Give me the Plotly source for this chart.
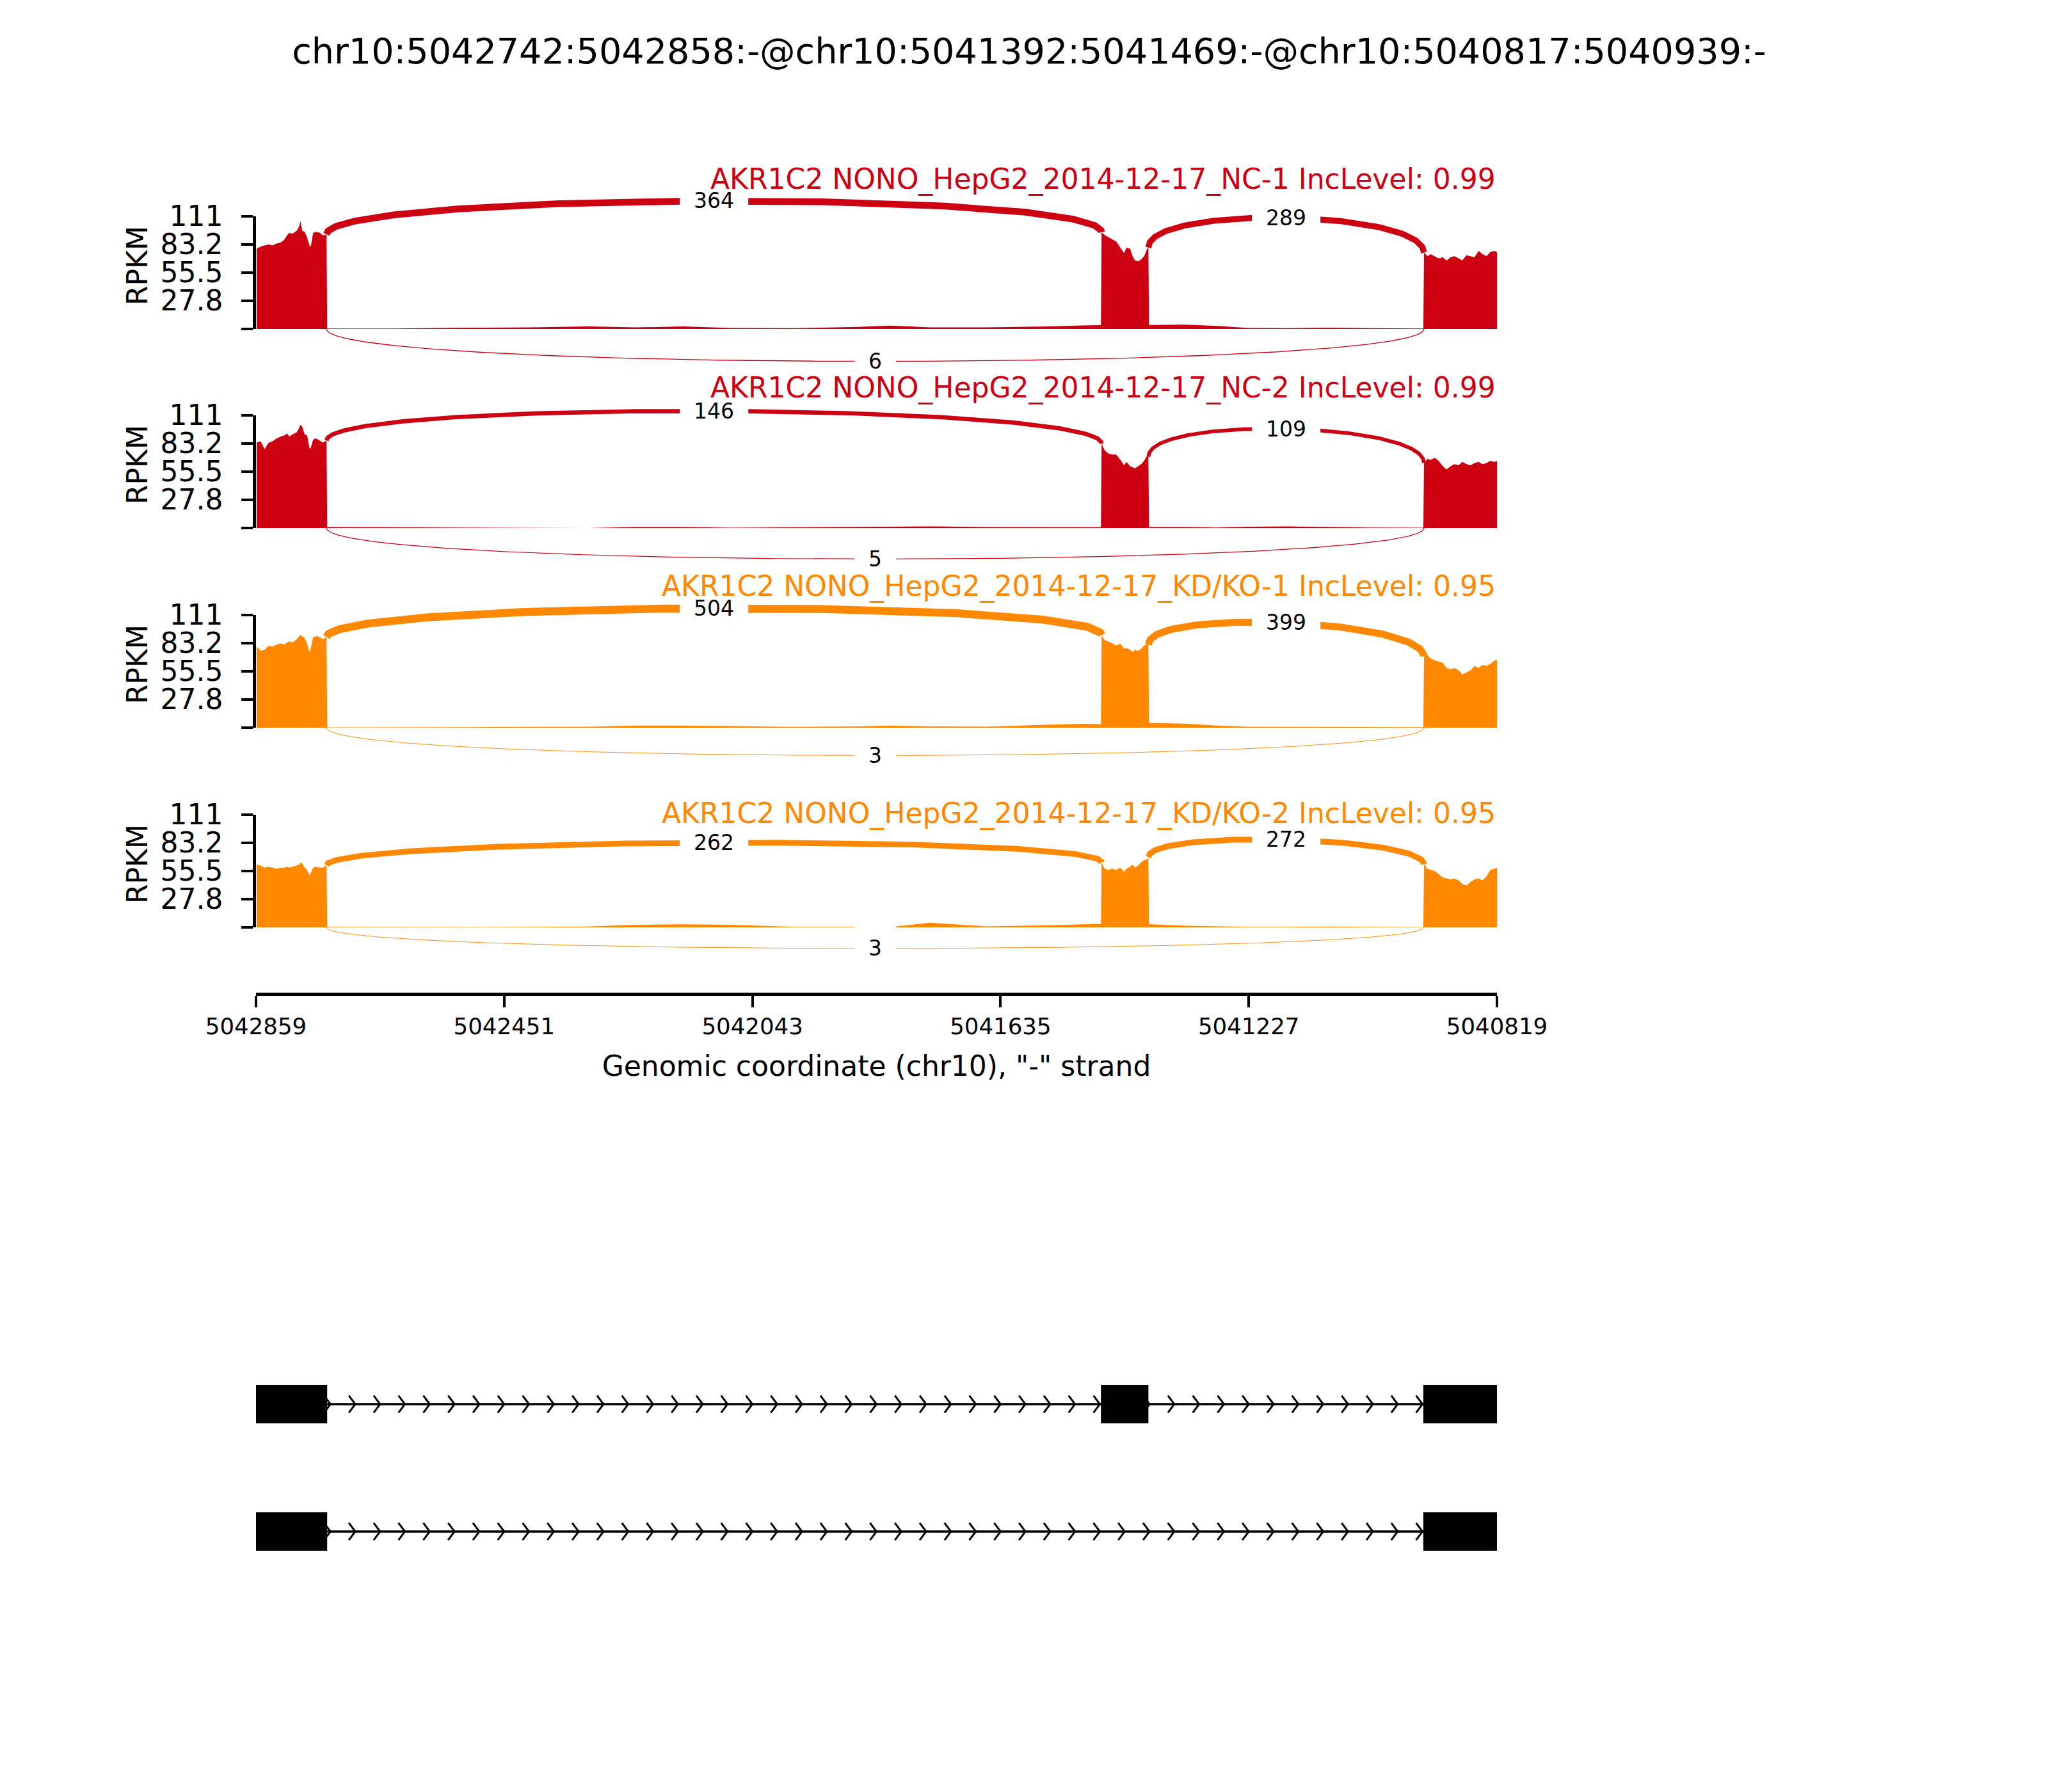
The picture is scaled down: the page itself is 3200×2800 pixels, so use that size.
import numpy as np
import plotly.graph_objects as go

# ---------------------------------------------------------------- data
TITLE = "chr10:5042742:5042858:-@chr10:5041392:5041469:-@chr10:5040817:5040939:-"
SAMPLE_NAMES = [
    "AKR1C2 NONO_HepG2_2014-12-17_NC-1 IncLevel: 0.99",
    "AKR1C2 NONO_HepG2_2014-12-17_NC-2 IncLevel: 0.99",
    "AKR1C2 NONO_HepG2_2014-12-17_KD/KO-1 IncLevel: 0.95",
    "AKR1C2 NONO_HepG2_2014-12-17_KD/KO-2 IncLevel: 0.95",
]
SAMPLE_COLORS = ["#CC0011", "#CC0011", "#FF8800", "#FF8800"]

X_LEFT, X_RIGHT = 5042859, 5040819
X_TICKS = [5042859, 5042451, 5042043, 5041635, 5041227, 5040819]
X_TICK_LABELS = ["5042859", "5042451", "5042043", "5041635", "5041227", "5040819"]
X_TITLE = 'Genomic coordinate (chr10), "-" strand'
Y_TICKS = [0, 27.8, 55.5, 83.2, 111]
Y_TICK_LABELS = ["", "27.8", "55.5", "83.2", "111"]
Y_LABEL = "RPKM"

# exons (start, end) and the two isoforms drawn in the gene track
EXONS = [(5042742, 5042858), (5041392, 5041469), (5040817, 5040939)]
ISOFORMS = [[0, 1, 2], [0, 2]]

# junctions: (left exon edge, right exon edge); drawn above or below
JUNCTIONS = [(5042743, 5041469), (5041392, 5040939), (5042743, 5040939)]
JUNCTION_ABOVE = [True, True, False]
NC1_JUNCTIONS = [364, 289, 6]
NC2_JUNCTIONS = [146, 109, 5]
KD1_JUNCTIONS = [504, 399, 3]
KD2_JUNCTIONS = [262, 272, 3]

# coverage sampling positions
EXON1_POS = [5042858, 5042851, 5042845, 5042838, 5042832, 5042825, 5042818, 5042812,
             5042808, 5042804, 5042799, 5042792, 5042788, 5042786, 5042783, 5042779,
             5042775, 5042771, 5042769, 5042765, 5042760, 5042754, 5042749, 5042743]
INTRON1_POS = [5042742, 5042733, 5042628, 5042510, 5042406, 5042314, 5042235, 5042157,
               5042078, 5041973, 5041869, 5041816, 5041751, 5041659, 5041554, 5041502,
               5041470]
EXON2_POS = [5041469, 5041464, 5041458, 5041451, 5041445, 5041438, 5041432, 5041428,
             5041422, 5041418, 5041414, 5041409, 5041404, 5041399, 5041394, 5041392]
INTRON2_POS = [5041391, 5041384, 5041331, 5041279, 5041227, 5041161, 5041096, 5041030,
               5040940]
EXON3_POS = [5040939, 5040933, 5040928, 5040921, 5040915, 5040908, 5040902, 5040895,
             5040889, 5040882, 5040876, 5040869, 5040862, 5040856, 5040849, 5040843,
             5040836, 5040830, 5040823, 5040819]

# coverage (RPKM)
NC1_EXON1 = [79, 81, 82, 83, 82, 84, 85, 88, 92, 94.5, 93.5, 96.5, 101, 106, 96.5, 95.5,
             90, 82, 81, 94.5, 95.5, 94.5, 92, 93]
NC1_INTRON1 = [0.5, 0.5, 0.5, 1.2, 1.5, 2.5, 1.5, 2.5, 1, 0.8, 2, 3.3, 1.5, 1.5, 2.5, 3.5, 3.8]
NC1_EXON2 = [95, 92.4, 90.3, 88.2, 86, 79.8, 74.6, 79.8, 78.8, 71.5, 67.3, 66.3, 68.3, 71.5,
             78.8, 80]
NC1_INTRON2 = [4, 4, 4.2, 3, 1, 0.8, 1.2, 0.8, 0.5]
NC1_EXON3 = [75, 71.5, 73.6, 71.5, 69.4, 70.4, 67.3, 70.4, 71.5, 69.4, 67.3, 72.5, 71.5, 70.4,
             76.7, 73.6, 71.5, 75.7, 76.7, 75.7]

NC2_EXON1 = [84, 85, 77.5, 84, 85, 88, 90, 91, 93, 90, 92, 94, 98.5, 101.6, 99.5, 92, 91,
             78.5, 78.5, 87, 88, 86, 84, 86]
NC2_INTRON1 = [1, 1, 0.8, 0.5, 0.3, 0, 1, 1, 0.3, 0.8, 1, 1.5, 1.5, 1, 1, 0.8, 0.8]
NC2_EXON2 = [83, 76.4, 73.3, 72.2, 72.2, 67, 61.7, 65, 60.7, 59.6, 58.6, 60.7, 62.8, 66,
             71.2, 70]
NC2_INTRON2 = [1, 1, 1, 0.5, 1.2, 1.5, 1, 0.5, 0.3]
NC2_EXON3 = [64, 68, 67, 69, 66, 60.7, 57.5, 60.7, 62.8, 61.7, 65, 62.8, 61.7, 63.8, 65,
             62.8, 63.8, 66, 65, 66]

KD1_EXON1 = [79.6, 75.4, 76.4, 80.6, 79.6, 81.7, 82.7, 81.7, 83.8, 84.8, 83.8, 87, 90, 91,
             90, 88, 82.7, 74.3, 77.5, 89, 90, 89, 87, 89]
KD1_INTRON1 = [0.3, 0.3, 0.3, 0.5, 0.8, 1, 2, 2, 1.5, 0.8, 1.2, 2, 1.2, 1, 3, 3.8, 3.5]
KD1_EXON2 = [91, 86, 84.8, 82.7, 80.6, 82.7, 77.5, 78.5, 76.4, 74.3, 76.4, 75.4, 77.5, 80.6,
             82.7, 81.7]
KD1_INTRON2 = [4.5, 4.5, 4, 2, 1, 0.8, 0.8, 0.8, 0.5]
KD1_EXON3 = [70, 71.2, 68, 66, 65, 63.8, 58.6, 57.5, 58.6, 56.5, 52.3, 54.4, 56.5, 60.7,
             58.6, 61.7, 60.7, 62.8, 66, 67]

KD2_EXON1 = [61.7, 60.7, 58.6, 59.6, 58.6, 57.5, 58.6, 58.6, 59.6, 58.6, 59.6, 60.7, 61.7,
             63.8, 62.8, 58.6, 56.5, 51.2, 53.3, 58.6, 59.6, 58.6, 58.6, 61]
KD2_INTRON1 = [0.5, 0.5, 0.3, 0.3, 0.5, 0.8, 2.5, 3, 2.5, 0.5, 0.5, 0.3, 4.5, 1, 2, 3, 3.5]
KD2_EXON2 = [64, 57.5, 56.5, 57.5, 56.5, 58.6, 54.4, 57.5, 59.6, 61.7, 58.6, 60.7, 63.8, 66,
             67, 69]
KD2_INTRON2 = [3, 3, 1.5, 0.8, 0.5, 0.5, 0.8, 0.5, 0.3]
KD2_EXON3 = [62, 57.5, 56.5, 55.4, 52.3, 49.1, 48.1, 47, 48.1, 46, 42.8, 41.2, 45, 47, 48.1,
             46, 50.2, 56.5, 57.5, 58.6]

# ---------------------------------------------------------------- layout constants
W, H = 3200, 2800
OFF = 8                                # page body margin of the browser
FONT = "DejaVu Sans"
PLOT_L, PLOT_R = 400, 2339
BASE_PX = [514, 825, 1137, 1449]       # pixel row of RPKM = 0 in each panel
PX_PER_UNIT = 1.59
Y_LO, Y_HI = -45, 145
TITLE_PX = [280, 606, 916, 1271]
AXIS_PX = 1551
TRACK_TOP_PX, TRACK_STEP_PX = 2194, 199
ARC_LW = 0.55
LABEL_SIZE = 33
LABEL_PAD = 22


def px(v):
    return 1 - (v - OFF) / H


def pxx(v):
    return (v - OFF) / W


X_DOMAIN = [pxx(PLOT_L), pxx(PLOT_R)]

coverage = [
    (NC1_EXON1, NC1_INTRON1, NC1_EXON2, NC1_INTRON2, NC1_EXON3, NC1_JUNCTIONS),
    (NC2_EXON1, NC2_INTRON1, NC2_EXON2, NC2_INTRON2, NC2_EXON3, NC2_JUNCTIONS),
    (KD1_EXON1, KD1_INTRON1, KD1_EXON2, KD1_INTRON2, KD1_EXON3, KD1_JUNCTIONS),
    (KD2_EXON1, KD2_INTRON1, KD2_EXON2, KD2_INTRON2, KD2_EXON3, KD2_JUNCTIONS),
]
POS = EXON1_POS + INTRON1_POS + EXON2_POS + INTRON2_POS + EXON3_POS


def bezier(p0, p1, p2, p3, n=240):
    t = np.linspace(0, 1, n)[:, None]
    pts = ((1 - t) ** 3) * p0 + 3 * ((1 - t) ** 2) * t * p1 + 3 * (1 - t) * t ** 2 * p2 + t ** 3 * p3
    return pts[:, 0], pts[:, 1]


def anchor_trace(xa, ya, x, y):
    # invisible point so that a decoration axis is rendered
    return go.Scatter(x=[x], y=[y], mode="markers", marker=dict(opacity=0, size=1),
                      xaxis=xa, yaxis=ya, hoverinfo="skip")


fig = go.Figure()
layout = dict(
    width=W, height=H, margin=dict(l=0, r=0, t=0, b=0, autoexpand=False),
    paper_bgcolor="white", plot_bgcolor="rgba(0,0,0,0)", showlegend=False,
    font=dict(family=FONT, color="black"),
    title=dict(text=TITLE, x=pxx(1600 + OFF), xanchor="center", y=px(80), yanchor="middle",
               font=dict(size=55.6, family=FONT, color="black")),
)
annotations = []
title_annotations = []
shapes = []

for i, (e1, i1, e2, i2, e3, jcounts) in enumerate(coverage):
    n = i + 1
    xa, ya = ("x", "y") if n == 1 else (f"x{n}", f"y{n}")
    color = SAMPLE_COLORS[i]
    base = BASE_PX[i]
    vals = e1 + i1 + e2 + i2 + e3
    fig.add_trace(go.Scatter(x=POS, y=vals, mode="lines", line=dict(width=0, color=color),
                             fill="tozeroy", fillcolor=color, xaxis=xa, yaxis=ya,
                             hoverinfo="skip"))
    h = 0.4 * max(vals)
    for (s1, s2), above, cnt in zip(JUNCTIONS, JUNCTION_ABOVE, jcounts):
        d1 = vals[POS.index(s1)]
        d2 = vals[POS.index(s2)]
        if above:
            p = [np.array([s1, d1]), np.array([s1, d1 + h]), np.array([s2, d2 + h]), np.array([s2, d2])]
        else:
            p = [np.array([s1, 0.0]), np.array([s1, -h]), np.array([s2, -h]), np.array([s2, 0.0])]
        bx, by = bezier(*p)
        fig.add_trace(go.Scatter(x=bx, y=by, mode="lines",
                                 line=dict(width=ARC_LW * np.sqrt(cnt), color=color),
                                 xaxis=xa, yaxis=ya, hoverinfo="skip"))
        mx, my = bezier(*p, n=3)
        txt = str(cnt)
        bw = len(txt) * 0.636 * LABEL_SIZE + 2 * LABEL_PAD
        bh = 1.164 * LABEL_SIZE + 2 * LABEL_PAD
        shapes.append(dict(type="rect", xref=xa, yref=ya, xsizemode="pixel", ysizemode="pixel",
                           xanchor=mx[1], yanchor=my[1], x0=-bw / 2, x1=bw / 2,
                           y0=-bh / 2, y1=bh / 2, fillcolor="white", line=dict(width=0),
                           layer="above"))
        annotations.append(dict(x=mx[1], y=my[1], xref=xa, yref=ya, text=txt,
                                xanchor="center", yanchor="middle", showarrow=False,
                                font=dict(size=LABEL_SIZE, color="black", family=FONT)))
    top = base - Y_HI * PX_PER_UNIT
    bot = base - Y_LO * PX_PER_UNIT
    layout["xaxis" if n == 1 else f"xaxis{n}"] = dict(
        domain=X_DOMAIN, range=[X_LEFT, X_RIGHT], visible=False, anchor=ya, automargin=False)
    layout["yaxis" if n == 1 else f"yaxis{n}"] = dict(
        domain=[px(bot), px(top)], range=[Y_LO, Y_HI], visible=False, anchor=xa,
        automargin=False)
    # decoration axis carrying the RPKM spine and ticks (0..111 only)
    d = 6 + n
    fig.add_trace(anchor_trace(f"x{d}", f"y{d}", X_LEFT, 0))
    layout[f"xaxis{d}"] = dict(domain=X_DOMAIN, range=[X_LEFT, X_RIGHT], visible=False,
                               anchor=f"y{d}", automargin=False)
    layout[f"yaxis{d}"] = dict(
        domain=[px(base), px(base - Y_TICKS[-1] * PX_PER_UNIT)], range=[0, Y_TICKS[-1]],
        anchor=f"x{d}", showline=True, linewidth=4.5, linecolor="black", ticks="outside",
        ticklen=18, tickwidth=4, tickcolor="black", tickvals=Y_TICKS, ticktext=Y_TICK_LABELS,
        tickfont=dict(size=44, family=FONT, color="black"), showgrid=False, zeroline=False,
        ticklabelstandoff=20, automargin=False)
    annotations.append(dict(x=pxx(214), y=px(base - 99), xref="paper", yref="paper",
                            xanchor="center", yanchor="middle",
                            text=Y_LABEL, textangle=-90, showarrow=False,
                            font=dict(size=44, family=FONT, color="black")))
    title_annotations.append(dict(x=pxx(PLOT_R), y=px(TITLE_PX[i]), xref="paper", yref="paper",
                                  xanchor="right", yanchor="middle", text=SAMPLE_NAMES[i],
                                  showarrow=False, font=dict(size=44, family=FONT, color=color)))

# bottom genomic axis
fig.add_trace(anchor_trace("x5", "y5", X_LEFT, 0.5))
layout["xaxis5"] = dict(domain=X_DOMAIN, range=[X_LEFT, X_RIGHT], anchor="y5",
                        showline=True, linewidth=4.5, linecolor="black", ticks="outside",
                        ticklen=18, tickwidth=3.5, tickcolor="black", tickvals=X_TICKS,
                        ticktext=X_TICK_LABELS, tickfont=dict(size=35.6, family=FONT, color="black"),
                        showgrid=False, zeroline=False, automargin=False,
                        title=dict(text=X_TITLE, font=dict(size=44, family=FONT, color="black"),
                                   standoff=28))
layout["yaxis5"] = dict(domain=[px(AXIS_PX), px(AXIS_PX - 20)], range=[0, 1], visible=False,
                        anchor="x5", automargin=False)

# gene track
TRACK_UNIT = TRACK_STEP_PX
n_iso = len(ISOFORMS)
track_centers = list(range(n_iso - 1, -1, -1))
layout["xaxis6"] = dict(domain=X_DOMAIN, range=[X_LEFT, X_RIGHT], visible=False, anchor="y6",
                        automargin=False)
top_px = TRACK_TOP_PX - 0.5 * TRACK_UNIT
bot_px = TRACK_TOP_PX + (n_iso - 1) * TRACK_STEP_PX + 0.5 * TRACK_UNIT
layout["yaxis6"] = dict(domain=[px(bot_px), px(top_px)], range=[-0.5, n_iso - 0.5],
                        visible=False, anchor="x6", automargin=False)
box_half = 30 / TRACK_UNIT
chev_half = 13.3 / TRACK_UNIT
bp_per_px = (X_LEFT - X_RIGHT) / (PLOT_R - PLOT_L)
chev_arm = 10 * bp_per_px
step = (X_LEFT - X_RIGHT) / 50.0
for iso, yc in zip(ISOFORMS, track_centers):
    first_start = EXONS[iso[0]][0]
    last_end = EXONS[iso[-1]][1]
    fig.add_trace(go.Scatter(x=[first_start, last_end], y=[yc, yc], mode="lines",
                             line=dict(width=3.5, color="black"), xaxis="x6", yaxis="y6",
                             hoverinfo="skip"))
    cx, cy = [], []
    k = 0
    while X_LEFT - k * step > X_RIGHT:
        g = X_LEFT - k * step
        if last_end < g < first_start:
            cx += [g + chev_arm, g, g + chev_arm, None]
            cy += [yc + chev_half, yc, yc - chev_half, None]
        k += 1
    fig.add_trace(go.Scatter(x=cx, y=cy, mode="lines", line=dict(width=3, color="black"),
                             xaxis="x6", yaxis="y6", hoverinfo="skip"))
    for e in iso:
        s, t = EXONS[e]
        shapes.append(dict(type="rect", xref="x6", yref="y6", x0=s, x1=t + 1,
                           y0=yc - box_half, y1=yc + box_half, fillcolor="black",
                           line=dict(width=0)))

layout["annotations"] = annotations + title_annotations
layout["shapes"] = shapes
fig.update_layout(**layout)
fig.write_html("out.html")
